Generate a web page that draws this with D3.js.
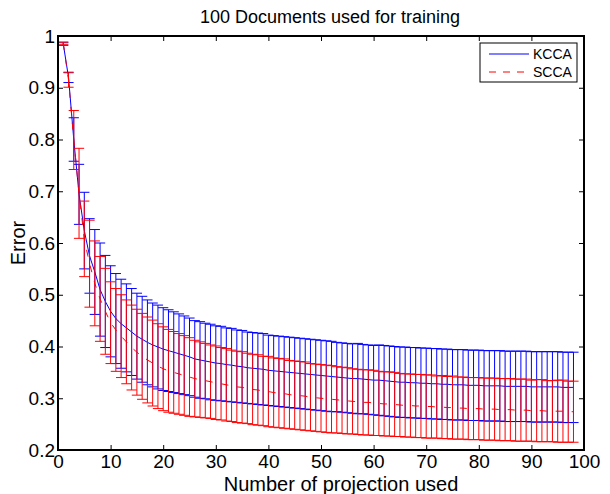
<!DOCTYPE html>
<html>
<head>
<meta charset="utf-8">
<script src="https://cdn.jsdelivr.net/npm/d3@7/dist/d3.min.js"></script>
<style>
  body { margin: 0; background: #fff; }
  svg { display: block; font-family: "Liberation Sans", Arial, Helvetica, sans-serif; }
</style>
</head>
<body>
<script>
"use strict";

// number of projections (x positions of the error bars)
const projections = [
   1,  2,  3,  4,  5,  6,  7,  8,  9, 10, 11, 12, 13, 14, 15, 16, 17, 18, 19, 20,
  21, 22, 23, 24, 25, 26, 27, 28, 29, 30, 31, 32, 33, 34, 35, 36, 37, 38, 39, 40,
  41, 42, 43, 44, 45, 46, 47, 48, 49, 50, 51, 52, 53, 54, 55, 56, 57, 58, 59, 60,
  61, 62, 63, 64, 65, 66, 67, 68, 69, 70, 71, 72, 73, 74, 75, 76, 77, 78, 79, 80,
  81, 82, 83, 84, 85, 86, 87, 88, 89, 90, 91, 92, 93, 94, 95, 96, 97, 98
]

// KCCA mean error and error bar half-width
const kccaMean = [
  0.985, 0.920, 0.800, 0.694, 0.624, 0.575, 0.544, 0.510, 0.487, 0.468,
  0.454, 0.444, 0.436, 0.428, 0.420, 0.414, 0.408, 0.403, 0.399, 0.395,
  0.392, 0.389, 0.386, 0.383, 0.380, 0.376, 0.374, 0.372, 0.370, 0.368,
  0.367, 0.365, 0.364, 0.362, 0.361, 0.359, 0.358, 0.357, 0.356, 0.354,
  0.353, 0.352, 0.351, 0.350, 0.349, 0.348, 0.347, 0.346, 0.345, 0.344,
  0.343, 0.342, 0.341, 0.340, 0.339, 0.338, 0.338, 0.337, 0.336, 0.335,
  0.335, 0.334, 0.333, 0.332, 0.331, 0.331, 0.330, 0.330, 0.329, 0.329,
  0.328, 0.328, 0.327, 0.327, 0.326, 0.326, 0.326, 0.325, 0.325, 0.325,
  0.324, 0.324, 0.324, 0.324, 0.323, 0.323, 0.323, 0.323, 0.323, 0.322,
  0.322, 0.322, 0.322, 0.322, 0.322, 0.321, 0.321, 0.321
]
const kccaErr = [
  0.003, 0.010, 0.042, 0.058, 0.074, 0.072, 0.082, 0.090, 0.089, 0.088,
  0.087, 0.086, 0.085, 0.084, 0.083, 0.083, 0.082, 0.081, 0.081, 0.080,
  0.079, 0.078, 0.077, 0.076, 0.075, 0.074, 0.074, 0.073, 0.073, 0.072,
  0.072, 0.071, 0.071, 0.070, 0.070, 0.069, 0.069, 0.069, 0.069, 0.068,
  0.068, 0.068, 0.068, 0.068, 0.068, 0.068, 0.068, 0.068, 0.068, 0.068,
  0.068, 0.068, 0.067, 0.067, 0.067, 0.067, 0.068, 0.067, 0.067, 0.067,
  0.068, 0.068, 0.068, 0.068, 0.068, 0.068, 0.068, 0.068, 0.068, 0.068,
  0.068, 0.068, 0.068, 0.068, 0.068, 0.068, 0.068, 0.068, 0.068, 0.068,
  0.068, 0.068, 0.068, 0.068, 0.068, 0.068, 0.068, 0.068, 0.068, 0.068,
  0.068, 0.068, 0.068, 0.068, 0.068, 0.068, 0.068, 0.068
]

// SCCA mean error and error bar half-width
const sccaMean = [
  0.986, 0.915, 0.799, 0.696, 0.608, 0.560, 0.522, 0.492, 0.468, 0.446,
  0.432, 0.420, 0.409, 0.398, 0.389, 0.381, 0.374, 0.368, 0.362, 0.357,
  0.353, 0.350, 0.347, 0.344, 0.341, 0.338, 0.336, 0.334, 0.332, 0.330,
  0.328, 0.326, 0.324, 0.322, 0.321, 0.319, 0.317, 0.316, 0.314, 0.313,
  0.311, 0.310, 0.309, 0.307, 0.306, 0.305, 0.304, 0.302, 0.301, 0.300,
  0.299, 0.298, 0.297, 0.296, 0.295, 0.294, 0.293, 0.292, 0.292, 0.291,
  0.290, 0.289, 0.289, 0.288, 0.287, 0.286, 0.286, 0.285, 0.285, 0.284,
  0.284, 0.283, 0.283, 0.282, 0.282, 0.281, 0.281, 0.280, 0.280, 0.280,
  0.279, 0.279, 0.279, 0.278, 0.278, 0.278, 0.277, 0.277, 0.277, 0.276,
  0.276, 0.276, 0.275, 0.275, 0.275, 0.275, 0.274, 0.274
]
const sccaErr = [
  0.002, 0.014, 0.057, 0.087, 0.073, 0.084, 0.082, 0.082, 0.083, 0.079,
  0.080, 0.080, 0.081, 0.082, 0.083, 0.083, 0.083, 0.083, 0.082, 0.081,
  0.080, 0.079, 0.078, 0.077, 0.076, 0.074, 0.073, 0.072, 0.071, 0.071,
  0.070, 0.070, 0.069, 0.069, 0.069, 0.068, 0.068, 0.068, 0.067, 0.068,
  0.067, 0.067, 0.067, 0.066, 0.066, 0.066, 0.066, 0.065, 0.065, 0.065,
  0.065, 0.065, 0.064, 0.064, 0.064, 0.063, 0.063, 0.063, 0.063, 0.063,
  0.062, 0.062, 0.062, 0.062, 0.061, 0.061, 0.061, 0.061, 0.061, 0.061,
  0.061, 0.060, 0.061, 0.060, 0.061, 0.060, 0.060, 0.060, 0.060, 0.060,
  0.060, 0.060, 0.060, 0.060, 0.060, 0.060, 0.060, 0.060, 0.060, 0.059,
  0.060, 0.060, 0.059, 0.059, 0.060, 0.060, 0.059, 0.059
]

const seriesNames = ["KCCA", "SCCA"]
const xTicks = [0, 10, 20, 30, 40, 50, 60, 70, 80, 90, 100]
const yTicks = [0.2, 0.3, 0.4, 0.5, 0.6, 0.7, 0.8, 0.9, 1]

const measurements = {
    width: 610,
    height: 494,
    left: 58,
    right: 584,
    top: 36,
    bottom: 450
}

const svg = d3.select("body").append("svg")
    .attr("width", measurements.width)
    .attr("height", measurements.height)

const x = d3.scaleLinear().domain([0, 100]).range([measurements.left, measurements.right])
const y = d3.scaleLinear().domain([0.2, 1]).range([measurements.bottom, measurements.top])

// matlab style cap: +-1% of the x data range
const tee = (d3.max(projections) - d3.min(projections)) / 100

//draws one errorbar series: the bars with caps first, then the mean line
function drawSeries(mean, err, color, dash) {
    const pts = projections.map((p, i) => ({ p: p, m: mean[i], e: err[i] }))
    const g = svg.append("g")
    g.selectAll("path.bar")
        .data(pts)
        .enter()
        .append("path")
        .attr("class", "bar")
        .attr("fill", "none")
        .attr("stroke", color)
        .attr("stroke-width", 1)
        .attr("d", d => {
            const lo = y(d.m - d.e), hi = y(d.m + d.e)
            const x0 = x(d.p - tee), x1 = x(d.p + tee), xc = x(d.p)
            return `M${xc},${lo}V${hi}M${x0},${hi}H${x1}M${x0},${lo}H${x1}`
        })
    g.append("path")
        .datum(pts)
        .attr("fill", "none")
        .attr("stroke", color)
        .attr("stroke-width", 1)
        .attr("stroke-dasharray", dash)
        .attr("d", d3.line().x(d => x(d.p)).y(d => y(d.m)))
}

drawSeries(kccaMean, kccaErr, "#0000ff", null)
drawSeries(sccaMean, sccaErr, "#ff0000", "7,9")

//axes with inward ticks on all four sides (box on)
const tickLen = 5
const fontSize = "19px"
svg.append("g")
    .attr("transform", `translate(0,${measurements.bottom})`)
    .call(d3.axisBottom(x).tickValues(xTicks).tickSizeInner(-tickLen).tickSizeOuter(0).tickPadding(5).tickFormat(d3.format("d")))
svg.append("g")
    .attr("transform", `translate(0,${measurements.top})`)
    .call(d3.axisTop(x).tickValues(xTicks).tickSizeInner(-tickLen).tickSizeOuter(0).tickFormat(""))
svg.append("g")
    .attr("transform", `translate(${measurements.left},0)`)
    .call(d3.axisLeft(y).tickValues(yTicks).tickSizeInner(-tickLen).tickSizeOuter(0).tickPadding(3).tickFormat(d => d === 1 ? "1" : d3.format(".1f")(d)))
svg.append("g")
    .attr("transform", `translate(${measurements.right},0)`)
    .call(d3.axisRight(y).tickValues(yTicks).tickSizeInner(-tickLen).tickSizeOuter(0).tickFormat(""))

svg.selectAll(".domain").remove()
svg.selectAll(".tick line").attr("stroke", "#000").attr("stroke-width", 1)
svg.selectAll(".tick text").attr("fill", "#000").style("font-size", fontSize).style("font-family", "inherit")

svg.append("rect")
    .attr("x", measurements.left)
    .attr("y", measurements.top)
    .attr("width", measurements.right - measurements.left)
    .attr("height", measurements.bottom - measurements.top)
    .attr("fill", "none")
    .attr("stroke", "#000")
    .attr("stroke-width", 2)

//title and axis labels
svg.append("text")
    .attr("x", (measurements.left + measurements.right) / 2 + 9)
    .attr("y", 23)
    .attr("text-anchor", "middle")
    .style("font-size", "18px")
    .text("100 Documents used for training")
svg.append("text")
    .attr("x", (measurements.left + measurements.right) / 2 + 20)
    .attr("y", 491)
    .attr("text-anchor", "middle")
    .style("font-size", "20px")
    .text("Number of projection used")
svg.append("text")
    .attr("transform", `translate(25,${(measurements.top + measurements.bottom) / 2}) rotate(-90)`)
    .attr("text-anchor", "middle")
    .style("font-size", "20px")
    .text("Error")

//legend
const legend = svg.append("g").attr("transform", "translate(480,43)")
legend.append("rect")
    .attr("width", 97)
    .attr("height", 39)
    .attr("fill", "#fff")
    .attr("stroke", "#000")
    .attr("stroke-width", 1)
const legendColors = ["#0000ff", "#ff0000"]
const legendDash = [null, "7,7"]
seriesNames.forEach((name, i) => {
    const row = legend.append("g").attr("transform", `translate(0,${11 + i * 18})`)
    row.append("line")
        .attr("x1", 9).attr("x2", 49)
        .attr("stroke", legendColors[i])
        .attr("stroke-width", 1)
        .attr("stroke-dasharray", legendDash[i])
    row.append("text")
        .attr("x", 53)
        .attr("dy", "0.35em")
        .style("font-size", "14px")
        .text(name)
})
</script>
</body>
</html>
